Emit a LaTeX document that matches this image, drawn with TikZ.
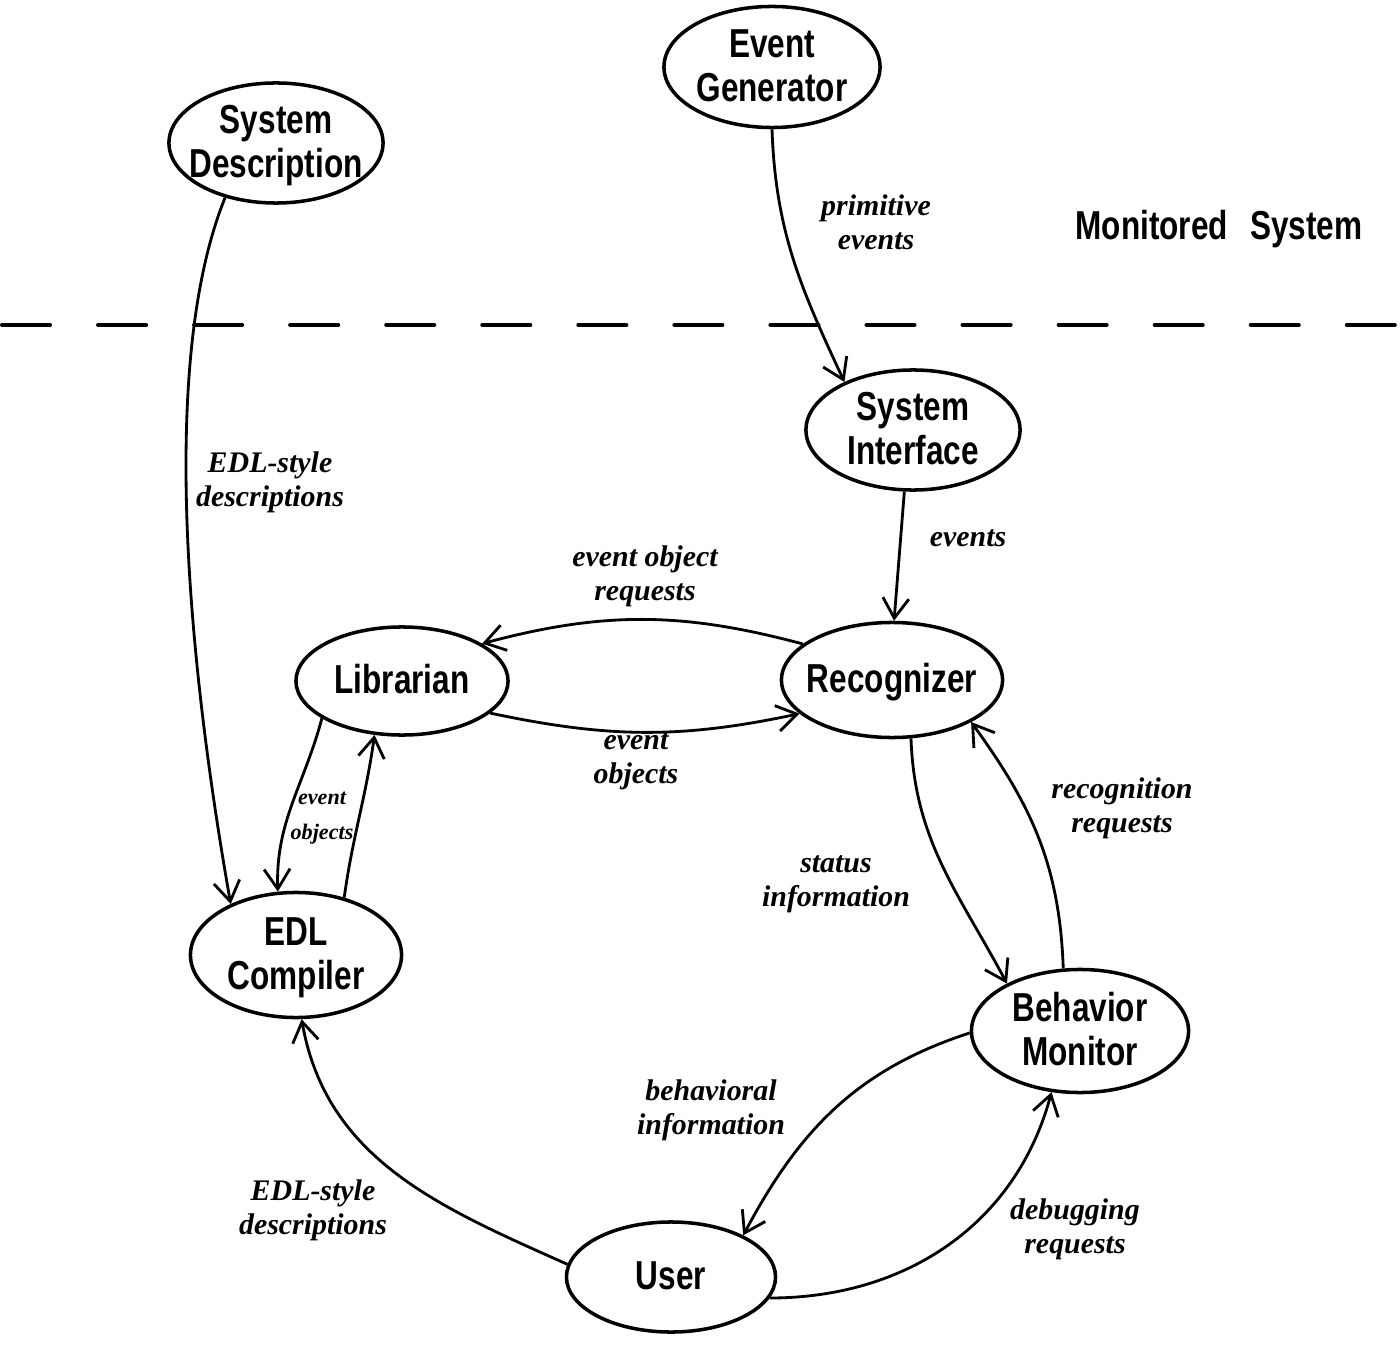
\documentclass[tikz,border=0pt]{standalone}
\usepackage{fontspec}
\usetikzlibrary{shapes.geometric, arrows.meta, positioning}
\newfontfamily\ovalfont[FakeStretch=0.78]{Liberation Sans}
\newfontfamily\tagfont{Liberation Serif}
\newcommand{\ovaltext}[1]{\makebox[0pt]{\smash{\raisebox{-4pt}{\begin{tabular}{@{}c@{}}#1\end{tabular}}}}}

\begin{document}
\begin{tikzpicture}[
        x = 0.01cm, y = 0.01cm,
        agent/.style = {
            ellipse,
            draw,
            line width = 1pt,
            inner sep = 0pt,
            minimum width = 2.14cm,
            minimum height = 1.2cm,
            font = \ovalfont\bfseries\fontsize{11.5}{12.5}\selectfont
        },
        flow/.style = {
            -{Straight Barb[length = 2mm, width = 2.6mm, line width = 0.8pt]},
            line width = 0.8pt
        },
        tag/.style = {
            align = center,
            inner sep = 1pt,
            font = \tagfont\bfseries\itshape\fontsize{8.5}{9.6}\selectfont
        },
        tinytag/.style = {
            tag,
            font = \tagfont\bfseries\itshape\fontsize{6.3}{10}\selectfont
        },
        divider/.style = {
            line width = 1.15pt,
            line cap = round,
            dash pattern = on 0.48cm off 0.48cm
        }
    ]
        \useasboundingbox (0, 0) rectangle (1400, -1346);

        % processes
        \node[agent, minimum width = 2.16cm, minimum height = 1.21cm] (evgen) at (772, -67) {\ovaltext{Event\\Generator}};
        \node[agent] (sysdesc) at (276, -143) {\ovaltext{System\\Description}};
        \node[agent] (sysint) at (913, -430) {\ovaltext{System\\Interface}};
        \node[agent, minimum width = 2.12cm, minimum height = 1.08cm] (lib) at (402, -681) {\ovaltext{Librarian}};
        \node[agent, minimum width = 2.21cm, minimum height = 1.15cm] (recog) at (892, -680) {\ovaltext{Recognizer}};
        \node[agent, minimum width = 2.11cm, minimum height = 1.25cm] (edlc) at (296, -955) {\ovaltext{EDL\\Compiler}};
        \node[agent, minimum width = 2.17cm, minimum height = 1.23cm] (behmon) at (1080, -1031) {\ovaltext{Behavior\\Monitor}};
        \node[agent, minimum width = 2.09cm, minimum height = 1.1cm] (user) at (671, -1277) {\ovaltext{User}};

        \node[font = \ovalfont\bfseries\fontsize{11.5}{12.5}\selectfont] (monsys) at (1219, -229) {Monitored\hspace{0.55em}System};

        % system boundary
        \coordinate (bleft) at (2, -325);
        \coordinate (bright) at (1400, -325);
        \draw[divider] (bleft) -- (bright);

        % data flows
        \draw[flow] (evgen.south) to[out = -88, in = 115] (sysint.145);
        \draw[flow] (sysdesc.227) to[out = -112, in = 100, looseness = 0.7] (edlc.142);
        \draw[flow] (sysint.262) -- (recog.88);
        \draw[flow] (recog.158) to[out = 165, in = 15] (lib.25);
        \draw[flow] (lib.-20) to[out = -12, in = 192] (recog.200);
        \draw[flow] (lib.205) to[out = -105, in = 92] (edlc.106);
        \draw[flow] (edlc.50) to[out = 82, in = -98] (lib.243);
        \draw[flow] (recog.-72) to[out = -88, in = 118] (behmon.147);
        \draw[flow] (behmon.105) to[out = 92, in = -54] (recog.-28);
        \draw[flow] (behmon.181) to[out = 198, in = 62] (user.30);
        \draw[flow] (user.-12) to[out = 0, in = -105] (behmon.245);
        \draw[flow] (user.173) to[out = 156, in = -80] (edlc.-85);

        % flow labels
        \node[tag] (tprim) at (876, -222) {primitive\\events};
        \node[tag] (tedl1) at (270, -482) {EDL-style\\descriptions};
        \node[tag] (tevt) at (968, -538) {events};
        \node[tag] (treq) at (645, -576) {event object\\requests};
        \node[tag] (tobj) at (636, -761) {event\\objects};
        \node[tinytag] (tobj2) at (322, -818) {event\\objects};
        \node[tag] (tstat) at (836, -884) {status\\information};
        \node[tag] (trecq) at (1122, -808) {recognition\\requests};
        \node[tag] (tbeh) at (711, -1110) {behavioral\\information};
        \node[tag] (tedl2) at (313, -1210) {EDL-style\\descriptions};
        \node[tag] (tdbg) at (1075, -1229) {debugging\\requests};
    \end{tikzpicture}
\end{document}
